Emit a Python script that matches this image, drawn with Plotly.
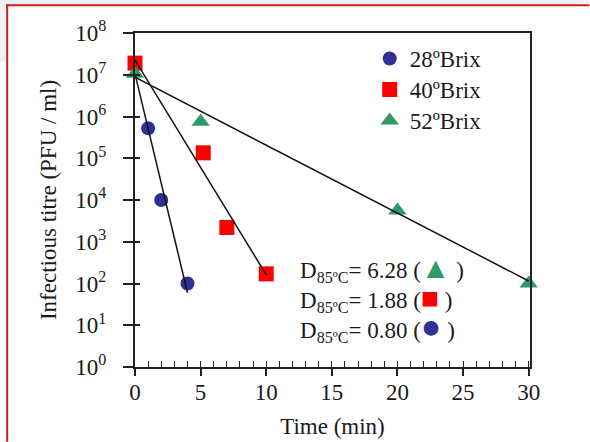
import plotly.graph_objects as go

# ---------------- data ----------------
series_names = ["28ºBrix", "40ºBrix", "52ºBrix"]

time_28 = [1, 2, 4]
titre_28 = [5.2e5, 1.0e4, 1.0e2]

time_40 = [0, 5.2, 7, 10]
titre_40 = [1.9e7, 1.35e5, 2.2e3, 1.7e2]

time_52 = [0, 5, 20, 30]
titre_52 = [1.05e7, 7.5e5, 5.6e3, 1.0e2]

# fitted inactivation lines (start / end)
fit_28_t = [0, 4]
fit_28_y = [1.05e7, 60]
fit_40_t = [0, 10]
fit_40_y = [2.24e7, 162]
fit_52_t = [0, 30]
fit_52_y = [8.7e6, 115]

d_values = ["6.28", "1.88", "0.80"]

y_tickvals = [1, 10, 100, 1e3, 1e4, 1e5, 1e6, 1e7, 1e8]
y_ticktext = ["10<sup>%d</sup>" % i for i in range(9)]
x_tickvals = [0, 5, 10, 15, 20, 25, 30]

# ---------------- styling ----------------
FONT = "Liberation Serif, Times New Roman, serif"
W, H = 590, 442
L, R, T, B = 135, 59.5, 33, 74.7
PW, PH = W - L - R, H - T - B

def px(x):
    return (x - L) / PW

def py(y):
    return (H - B - y) / PH

BLUE = "#2E3093"
RED = "#FF0000"
GREEN = "#2E9A68"

fig = go.Figure()

fig.add_trace(go.Scatter(x=time_28, y=titre_28, mode="markers", name=series_names[0],
                         marker=dict(symbol="circle", size=14, color=BLUE), cliponaxis=False,
                         legend="legend"))
fig.add_trace(go.Scatter(x=time_40, y=titre_40, mode="markers", name=series_names[1],
                         marker=dict(symbol="square", size=15, color=RED), cliponaxis=False,
                         legend="legend2"))
fig.add_trace(go.Scatter(x=time_52, y=titre_52, mode="markers", name=series_names[2],
                         marker=dict(symbol="triangle-up", size=16, color=GREEN), cliponaxis=False,
                         legend="legend3"))

for t, y in [(fit_28_t, fit_28_y), (fit_40_t, fit_40_y), (fit_52_t, fit_52_y)]:
    fig.add_trace(go.Scatter(x=t, y=y, mode="lines", showlegend=False,
                             line=dict(color="#111111", width=1.5), cliponaxis=False,
                             hoverinfo="skip"))

def leg(center_y):
    return dict(x=px(370), y=py(center_y - 21), xanchor="left", yanchor="top",
                bgcolor="rgba(0,0,0,0)", font=dict(family=FONT, size=23))

axis_col = "#222222"
fig.update_layout(
    width=W, height=H,
    margin=dict(l=L, r=R, t=T, b=B, autoexpand=False),
    paper_bgcolor="white", plot_bgcolor="white",
    font=dict(family=FONT, size=23, color="#1a1a1a"),
    showlegend=True,
    legend=leg(58), legend2=leg(89), legend3=leg(120),
    xaxis=dict(range=[0, 30.1], tickvals=x_tickvals, ticks="outside", ticklen=7,
               tickwidth=1.5, tickcolor=axis_col, showline=True, linewidth=2,
               linecolor=axis_col, mirror=True, showgrid=False, zeroline=False,
               automargin=False, ticklabelstandoff=-4,
               tickfont=dict(family=FONT, size=23),
               title=dict(text="Time (min)", font=dict(family=FONT, size=23), standoff=14)),
    xaxis2=dict(range=[0, 30.1], overlaying="x", anchor="y", side="bottom",
                dtick=1, tick0=0, ticks="inside", ticklen=6, tickwidth=1.2,
                tickcolor=axis_col, showticklabels=False, showline=False,
                showgrid=False, zeroline=False, automargin=False),
    yaxis=dict(type="log", range=[0, 8], tickvals=y_tickvals, ticktext=y_ticktext,
               ticks="outside", ticklen=10, tickwidth=1.5, tickcolor=axis_col,
               showline=True, linewidth=2, linecolor=axis_col, mirror=True,
               showgrid=False, zeroline=False, ticklabelstandoff=12, automargin=False,
               tickfont=dict(family=FONT, size=23),
               title=dict(text="Infectious titre (PFU / ml)",
                          font=dict(family=FONT, size=23), standoff=12)),
    yaxis2=dict(type="log", range=[0, 8], overlaying="y", anchor="x", side="left",
                tickvals=y_tickvals, ticks="inside", ticklen=5, tickwidth=1.5,
                tickcolor=axis_col, showticklabels=False, showline=False,
                showgrid=False, zeroline=False, automargin=False),
)

# dummy invisible trace to activate overlay axes
fig.add_trace(go.Scatter(x=[None], y=[None], xaxis="x2", yaxis="y2",
                         showlegend=False, hoverinfo="skip"))

symbols_html = [
    "<span style='color:%s;font-size:30px'>▲</span>" % GREEN,
    "<span style='color:%s;font-size:30px'>■</span>" % RED,
    "<span style='color:%s;font-size:34px'>●</span>" % BLUE,
]
lines = ["D<sub>85ºC</sub>= %s (%s )" % (d, s) for d, s in zip(d_values, symbols_html)]
fig.add_annotation(text="<br>".join(lines), xref="paper", yref="paper",
                   x=px(298), y=py(249), xanchor="left", yanchor="top",
                   align="left", showarrow=False,
                   font=dict(family=FONT, size=23, color="#1a1a1a"))

# page frame (grey page background and red border)
GREY = "#F0F0F0"
BORDER = "#CC1F24"
fig.add_shape(type="rect", xref="paper", yref="paper", x0=px(0), x1=px(W), y0=py(4.3), y1=py(0),
              line=dict(width=0), fillcolor=GREY, layer="below")
fig.add_shape(type="rect", xref="paper", yref="paper", x0=px(0), x1=px(6), y0=py(62), y1=py(0),
              line=dict(width=0), fillcolor=GREY, layer="below")
fig.add_shape(type="line", xref="paper", yref="paper", x0=px(6), x1=px(W), y0=py(5.3), y1=py(5.3),
              line=dict(color=BORDER, width=2))
fig.add_shape(type="line", xref="paper", yref="paper", x0=px(7), x1=px(7), y0=py(4.5), y1=py(H),
              line=dict(color=BORDER, width=2))

fig.write_html("out.html", config={"displayModeBar": False},
               post_script="document.body.style.margin='0';")
